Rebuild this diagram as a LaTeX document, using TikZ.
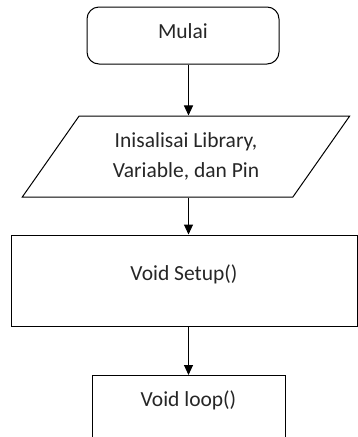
\documentclass[tikz,border=0pt]{standalone}
\usepackage{fontspec}
\setmainfont{Carlito}
\usetikzlibrary{arrows.meta,shapes.geometric}

\begin{document}
\begin{tikzpicture}[x=1pt, y=-1pt, line width=1pt,
    every node/.append style={font=\fontsize{21.5}{30}\selectfont, text=black!85, inner sep=0pt},
    startbox/.style={draw, rounded corners=12pt, minimum width=192pt, minimum height=57pt},
    iobox/.style={draw, trapezium, trapezium left angle=50.8, trapezium right angle=129.2,
        trapezium stretches=true, minimum width=328pt, minimum height=81pt, align=center},
    procbox/.style={draw, rectangle},
    flow/.style={-{Triangle[width=9pt,length=10pt]}}]
        \useasboundingbox (0,0) rectangle (358,437);
        \clip (0,0) rectangle (358,437);

        \node[startbox, text height=16pt, text depth=10.4pt] (mulai) at (183,35.5) {Mulai};
        \node[iobox] (init) at (186,156.5) {Inisalisai Library,\\Variable, dan Pin};
        \node[procbox, minimum width=346pt, minimum height=91pt, text height=16pt, text depth=17pt] (setup) at (184,280.5) {Void Setup()};
        \node[procbox, anchor=north, minimum width=193pt, minimum height=120pt, text height=16pt, text depth=74pt] (loop) at (188.5,375) {Void loop()};

        \draw[flow] (mulai.south -| loop.north) -- (init.north -| loop.north);
        \draw[flow] (init.south -| loop.north) -- (setup.north -| loop.north);
        \draw[flow] (setup.south -| loop.north) -- (loop.north);
\end{tikzpicture}
\end{document}
